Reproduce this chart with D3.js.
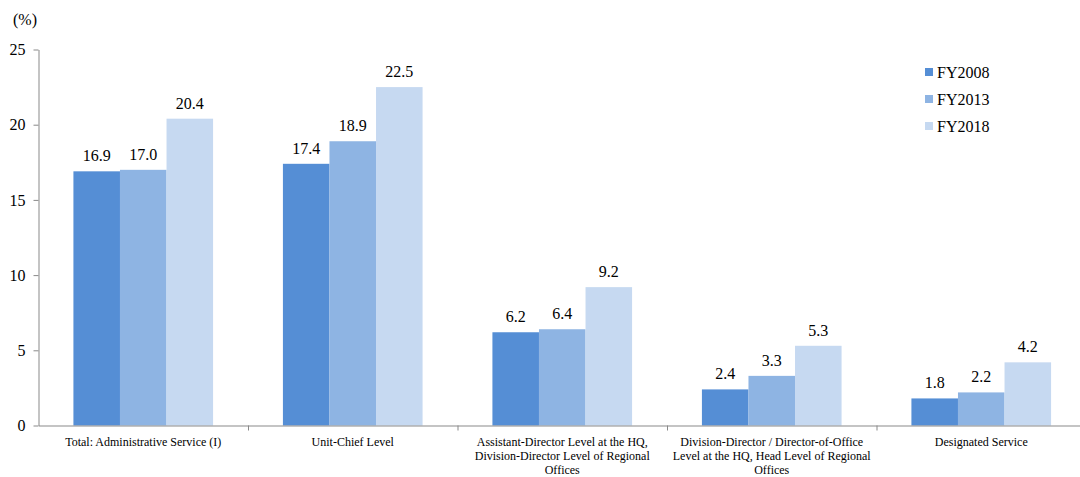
<!DOCTYPE html>
<html><head><meta charset="utf-8">
<script src="https://cdn.jsdelivr.net/npm/d3@7"></script>
<style>
body{margin:0;background:#fff;}
svg{display:block;}
</style></head>
<body><svg id="c" width="1080" height="477" font-family="Liberation Serif"></svg>
<script>
const categories = [
  ["Total: Administrative Service (I)"],
  ["Unit-Chief Level"],
  ["Assistant-Director Level at the HQ,","Division-Director Level of Regional","Offices"],
  ["Division-Director / Director-of-Office","Level at the HQ, Head Level of Regional","Offices"],
  ["Designated Service"]
];
const seriesNames = ["FY2008","FY2013","FY2018"];
const fy2008 = [16.9, 17.4, 6.2, 2.4, 1.8];
const fy2013 = [17.0, 18.9, 6.4, 3.3, 2.2];
const fy2018 = [20.4, 22.5, 9.2, 5.3, 4.2];
const yTicks = [0,5,10,15,20,25];
const colors = ["#558ed5","#8eb4e3","#c6d9f1"];

const series = [fy2008, fy2013, fy2018];
const svg = d3.select("#c");
const mLeft = 38.5, mRight = 1086, mTop = 49.5, mBottom = 425.5;
const FONT = "Liberation Serif";

const x = d3.scaleBand().domain(d3.range(categories.length)).range([mLeft, mRight]).padding(0);
const xi = d3.scaleBand().domain(d3.range(series.length)).range([0, x.bandwidth()]).paddingInner(0).paddingOuter(0.75);
const y = d3.scaleLinear().domain([0,25]).range([mBottom, mTop]);

// bars
series.forEach((vals, si) => {
  svg.append("g").selectAll("rect").data(vals).join("rect")
    .attr("x", (d,i) => x(i) + xi(si))
    .attr("y", d => y(d))
    .attr("width", xi.bandwidth())
    .attr("height", d => y(0) - y(d))
    .attr("fill", colors[si]);
  svg.append("g").selectAll("text").data(vals).join("text")
    .attr("x", (d,i) => x(i) + xi(si) + xi.bandwidth()/2)
    .attr("y", d => y(d) - 10)
    .attr("text-anchor","middle")
    .attr("font-family", FONT)
    .attr("font-size", 16)
    .attr("fill","#000")
    .text(d => d.toFixed(1));
});

// y axis
const yAxis = svg.append("g").attr("transform", `translate(${mLeft},0)`)
  .call(d3.axisLeft(y).tickValues(yTicks).tickSize(5).tickSizeOuter(0).tickPadding(8));
yAxis.attr("font-family", FONT);
yAxis.select(".domain").attr("stroke","#898989");
yAxis.selectAll(".tick line").attr("stroke","#898989");
yAxis.selectAll(".tick text").attr("font-size",16).attr("font-family", FONT).attr("fill","#000");

// x axis
const xb = d3.scaleLinear().domain([0, categories.length]).range([mLeft, mRight]);
const xAxis = svg.append("g").attr("transform", `translate(0,${mBottom})`)
  .call(d3.axisBottom(xb).tickValues(d3.range(1, categories.length)).tickSize(5).tickSizeOuter(0).tickFormat(""));
xAxis.select(".domain").attr("stroke","#898989");
xAxis.selectAll(".tick line").attr("stroke","#898989");

// category labels
categories.forEach((lines, i) => {
  const t = svg.append("text")
    .attr("text-anchor","middle")
    .attr("font-family", FONT)
    .attr("font-size",12)
    .attr("fill","#000");
  lines.forEach((ln, j) => {
    t.append("tspan").attr("x", x(i) + x.bandwidth()/2).attr("y", 446 + j*14).text(ln);
  });
});

// unit label
svg.append("text").attr("x", 13).attr("y", 25).attr("font-family", FONT).attr("font-size",16).attr("fill","#000").text("(%)");

// legend
const lg = svg.append("g");
seriesNames.forEach((n, i) => {
  const cy = 72 + i*27;
  lg.append("rect").attr("x", 925).attr("y", cy-4).attr("width", 8).attr("height", 8).attr("fill", colors[i]);
  lg.append("text").attr("x", 937).attr("y", cy+5.5).attr("font-family", FONT).attr("font-size",16).attr("fill","#000").text(n);
});
</script></body></html>
